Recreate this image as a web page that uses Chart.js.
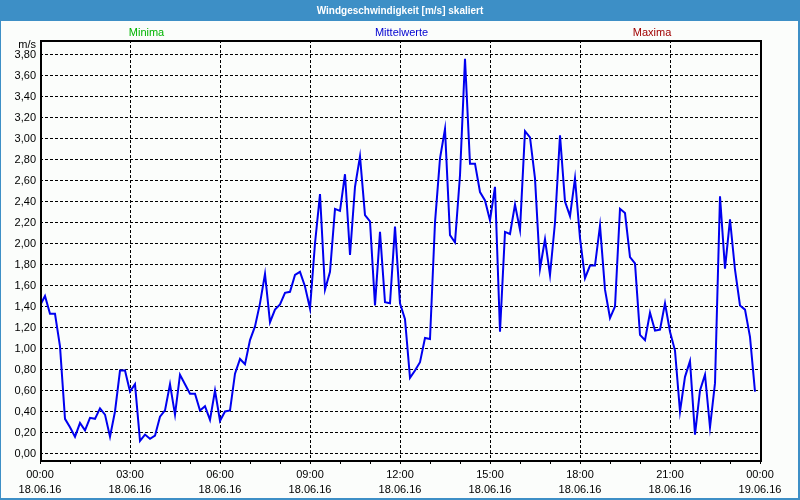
<!DOCTYPE html>
<html>
<head>
<meta charset="utf-8">
<script src="https://cdn.jsdelivr.net/npm/chart.js@4"></script>
<style>
  html, body { margin: 0; padding: 0; background: #fbfdfb; }
  #c { display: block; }
</style>
</head>
<body>
<canvas id="c" width="800" height="500"></canvas>
<script>
// ---- data ----
const chartTitle = 'Windgeschwindigkeit [m/s] skaliert';
const seriesNames = ['Minima', 'Mittelwerte', 'Maxima'];
const unitLabel = 'm/s';
const intervalMinutes = 10; // one value every 10 minutes, starting 18.06.16 00:00
const windSpeed = [
  1.41, 1.50, 1.33, 1.33, 1.02, 0.33, 0.25, 0.16, 0.29, 0.22, 0.34, 0.33,
  0.43, 0.37, 0.16, 0.40, 0.79, 0.79, 0.59, 0.66, 0.12, 0.18, 0.14, 0.17,
  0.35, 0.41, 0.66, 0.37, 0.75, 0.66, 0.57, 0.57, 0.41, 0.45, 0.32, 0.60,
  0.31, 0.40, 0.41, 0.76, 0.90, 0.85, 1.08, 1.21, 1.43, 1.71, 1.25, 1.37,
  1.42, 1.53, 1.54, 1.70, 1.73, 1.59, 1.38, 2.00, 2.47, 1.56, 1.73, 2.33,
  2.31, 2.66, 1.89, 2.54, 2.83, 2.27, 2.21, 1.41, 2.11, 1.44, 1.43, 2.16,
  1.43, 1.28, 0.72, 0.79, 0.87, 1.10, 1.09, 2.20, 2.81, 3.09, 2.08, 2.01,
  2.65, 3.76, 2.76, 2.76, 2.49, 2.41, 2.22, 2.54, 1.16, 2.11, 2.09, 2.37,
  2.13, 3.07, 3.01, 2.62, 1.76, 2.04, 1.70, 2.20, 3.03, 2.40, 2.26, 2.62,
  2.05, 1.67, 1.79, 1.79, 2.17, 1.56, 1.29, 1.40, 2.33, 2.29, 1.87, 1.81,
  1.13, 1.08, 1.34, 1.17, 1.18, 1.43, 1.16, 0.98, 0.40, 0.73, 0.88, 0.18,
  0.60, 0.75, 0.25, 0.67, 2.45, 1.76, 2.23, 1.75, 1.41, 1.37, 1.11, 0.59
];
const xTimeLabels = ['00:00', '03:00', '06:00', '09:00', '12:00', '15:00', '18:00', '21:00', '00:00'];
const xDateLabels = ['18.06.16', '18.06.16', '18.06.16', '18.06.16', '18.06.16', '18.06.16', '18.06.16', '18.06.16', '19.06.16'];
const yTickValues = [0, 0.2, 0.4, 0.6, 0.8, 1.0, 1.2, 1.4, 1.6, 1.8, 2.0, 2.2, 2.4, 2.6, 2.8, 3.0, 3.2, 3.4, 3.6, 3.8];
const yTickLabels = ['0,00', '0,20', '0,40', '0,60', '0,80', '1,00', '1,20', '1,40', '1,60', '1,80',
                     '2,00', '2,20', '2,40', '2,60', '2,80', '3,00', '3,20', '3,40', '3,60', '3,80'];

// ---- styling ----
const BG = '#fbfdfb';
const BAR = '#3d8fc6';
const FONT = '"Liberation Sans", Arial, sans-serif';
const seriesColors = ['#00b400', '#0000d0', '#a00000'];
const seriesLabelX = [146.5, 401.5, 652];

const points = windSpeed.map((v, i) => ({ x: i * intervalMinutes, y: v }));
const totalMinutes = 24 * 60;

const decor = {
  id: 'decor',
  beforeDraw(chart) {
    const ctx = chart.ctx;
    ctx.save();
    ctx.fillStyle = BG;
    ctx.fillRect(0, 0, chart.width, chart.height);
    ctx.fillStyle = BAR;
    ctx.fillRect(0, 0, chart.width, 21);
    ctx.fillRect(0, 0, 1, chart.height);
    ctx.fillRect(chart.width - 2, 0, 2, chart.height);
    ctx.fillRect(0, chart.height - 2, chart.width, 2);
    ctx.restore();
  },
  afterDraw(chart) {
    const ctx = chart.ctx;
    const a = chart.chartArea;
    ctx.save();
    ctx.strokeStyle = '#000';
    ctx.lineWidth = 2;
    ctx.setLineDash([]);
    ctx.strokeRect(a.left + 1, a.top + 1, a.right - a.left, a.bottom - a.top);
    ctx.font = '11px ' + FONT;
    ctx.textBaseline = 'middle';
    ctx.textAlign = 'center';
    seriesNames.forEach((n, i) => {
      ctx.fillStyle = seriesColors[i];
      ctx.fillText(n, seriesLabelX[i], 32.5);
    });
    ctx.fillStyle = '#000';
    ctx.textAlign = 'right';
    ctx.fillText(unitLabel, 36, 45);
    ctx.restore();
  }
};

new Chart(document.getElementById('c'), {
  type: 'line',
  data: {
    datasets: [{
      label: seriesNames[1],
      data: points,
      borderColor: '#0000f0',
      borderWidth: 2,
      pointRadius: 0,
      tension: 0,
      fill: false
    }]
  },
  options: {
    responsive: false,
    animation: false,
    devicePixelRatio: 1,
    layout: { padding: 0 },
    plugins: {
      legend: { display: false },
      tooltip: { enabled: false },
      title: {
        display: true,
        text: chartTitle,
        color: '#ffffff',
        font: { family: FONT, size: 10, weight: 'bold', lineHeight: 1.2 },
        padding: { top: 5.5, bottom: 22.5 }
      }
    },
    scales: {
      x: {
        type: 'linear',
        min: 0,
        max: totalMinutes,
        afterBuildTicks(scale) {
          const t = [];
          for (let m = 0; m <= totalMinutes; m += 60) t.push({ value: m });
          scale.ticks = t;
        },
        afterFit(scale) { scale.height = 40; },
        ticks: {
          autoSkip: false,
          maxRotation: 0,
          minRotation: 0,
          padding: 3,
          color: '#000',
          font: { family: FONT, size: 11, lineHeight: 1.41 },
          callback(value) {
            if (value % 180 !== 0) return '';
            const k = value / 180;
            return [xTimeLabels[k], xDateLabels[k]];
          }
        },
        grid: {
          color: (c) => (c.tick && c.tick.value % 180 === 0) ? '#000' : 'rgba(0,0,0,0)',
          tickColor: '#000',
          tickLength: 4,
          lineWidth: 1,
          tickBorderDash: []
        },
        border: { display: false, dash: [3, 2] }
      },
      y: {
        type: 'linear',
        min: -0.062,
        max: 3.938,
        afterBuildTicks(scale) {
          scale.ticks = yTickValues.map(v => ({ value: v }));
        },
        afterFit(scale) { scale.width = 40; },
        ticks: {
          padding: 4,
          color: '#000',
          font: { family: FONT, size: 11 },
          callback(value, index) { return yTickLabels[index]; }
        },
        grid: {
          color: '#000',
          lineWidth: 1,
          drawTicks: false
        },
        border: { display: false, dash: [3, 2] }
      },
      yRightSpace: {
        type: 'linear',
        position: 'right',
        min: 0,
        max: 1,
        afterFit(scale) { scale.width = 40; },
        ticks: { display: false },
        grid: { display: false, drawOnChartArea: false, drawTicks: false },
        border: { display: false }
      }
    }
  },
  plugins: [decor]
});
</script>
</body>
</html>
